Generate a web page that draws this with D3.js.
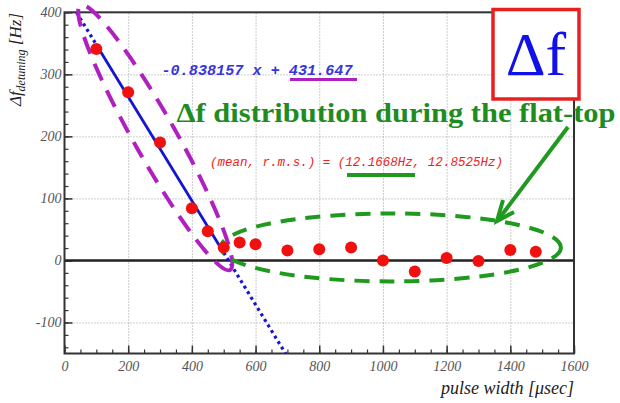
<!DOCTYPE html>
<html>
<head>
<meta charset="utf-8">
<script src="https://cdn.jsdelivr.net/npm/d3@7"></script>
<style>
  body { margin: 0; background: #fff; }
  svg { display: block; }
</style>
</head>
<body>
<div id="chart"></div>
<script>
// measured points (pulse width in usec, detuning in Hz)
const pulseWidth = [100, 200, 300, 400, 450, 500, 550, 600, 700, 800, 900, 1000, 1100, 1200, 1300, 1400, 1480];
const detuning = [341, 271, 190, 84, 47, 21, 29, 26, 16, 18, 21, 0, -18, 4, -1, 17, 14];

// linear fit on the rising part
const fitSlope = -0.838157;
const fitIntercept = 431.647;
const fitSolid = [100, 500];
const fitDotted = [[38, 100], [500, 694]];

const xTicks = [0, 200, 400, 600, 800, 1000, 1200, 1400, 1600];
const yTicks = [-100, 0, 100, 200, 300, 400];
const xMinor = d3.range(0, 1601, 50);
const yMinor = d3.range(-140, 401, 20);

const fitLabel = "-0.838157 x + 431.647";
const statLabel = "(mean, r.m.s.) = (12.1668Hz, 12.8525Hz)";
const flatTopLabel = "\u0394f distribution during the flat-top";

const W = 620, H = 403;
const pLeft = 64.5, pRight = 574, pTop = 12.3, pBottom = 353.5;

const svg = d3.select("#chart")
    .append("svg")
    .attr("width", W)
    .attr("height", H);

const x = d3.scaleLinear().domain([0, 1600]).range([pLeft, pRight]);
const y = d3.scaleLinear().domain([-150, 400]).range([pBottom, pTop]);
const plain = d => String(d);

// grid
svg.append("g")
    .attr("transform", "translate(0," + pBottom + ")")
    .call(d3.axisBottom(x).tickValues(xTicks.slice(1, -1)).tickSize(-(pBottom - pTop)).tickFormat(""))
    .call(g => g.select(".domain").remove())
    .call(g => g.selectAll("line").attr("stroke", "#999").attr("stroke-dasharray", "1,2"));
svg.append("g")
    .attr("transform", "translate(" + pLeft + ",0)")
    .call(d3.axisLeft(y).tickValues(yTicks).tickSize(-(pRight - pLeft)).tickFormat(""))
    .call(g => g.select(".domain").remove())
    .call(g => g.selectAll("line").attr("stroke", "#999").attr("stroke-dasharray", "1,2"));

// minor ticks
svg.append("g")
    .attr("transform", "translate(0," + pBottom + ")")
    .call(d3.axisBottom(x).tickValues(xMinor).tickSize(-4).tickFormat(""))
    .call(g => g.select(".domain").remove())
    .call(g => g.selectAll("line").attr("stroke", "#333").attr("stroke-width", 1.2));
svg.append("g")
    .attr("transform", "translate(" + pLeft + ",0)")
    .call(d3.axisLeft(y).tickValues(yMinor).tickSize(-4).tickFormat(""))
    .call(g => g.select(".domain").remove())
    .call(g => g.selectAll("line").attr("stroke", "#333").attr("stroke-width", 1.2));

// major ticks + labels
svg.append("g")
    .attr("transform", "translate(0," + pBottom + ")")
    .call(d3.axisBottom(x).tickValues(xTicks).tickSize(-8).tickPadding(8).tickFormat(plain))
    .call(g => g.select(".domain").remove())
    .call(g => g.selectAll("line").attr("stroke", "#333").attr("stroke-width", 1.5))
    .call(g => g.selectAll("text")
        .attr("font-family", "Liberation Serif, serif")
        .attr("font-style", "italic")
        .attr("font-size", 14)
        .attr("fill", "#555"));
svg.append("g")
    .attr("transform", "translate(" + pLeft + ",0)")
    .call(d3.axisLeft(y).tickValues(yTicks).tickSize(-8).tickPadding(3).tickFormat(plain))
    .call(g => g.select(".domain").remove())
    .call(g => g.selectAll("line").attr("stroke", "#333").attr("stroke-width", 1.5))
    .call(g => g.selectAll("text")
        .attr("font-family", "Liberation Serif, serif")
        .attr("font-style", "italic")
        .attr("font-size", 14)
        .attr("fill", "#555"));

// zero line
svg.append("line")
    .attr("x1", pLeft).attr("x2", pRight)
    .attr("y1", y(0)).attr("y2", y(0))
    .attr("stroke", "#222")
    .attr("stroke-width", 2.5);

// frame
svg.append("rect")
    .attr("x", pLeft).attr("y", pTop)
    .attr("width", pRight - pLeft).attr("height", pBottom - pTop)
    .attr("fill", "none")
    .attr("stroke", "#333")
    .attr("stroke-width", 2);

// fit line
const fitLine = d3.line()
    .x(d => x(d))
    .y(d => y(fitSlope * d + fitIntercept));

svg.append("path")
    .attr("d", fitLine(fitSolid))
    .attr("fill", "none")
    .attr("stroke", "#1515d0")
    .attr("stroke-width", 2.8);

fitDotted.forEach(seg => {
    svg.append("path")
        .attr("d", fitLine(seg))
        .attr("fill", "none")
        .attr("stroke", "#1515d0")
        .attr("stroke-width", 3.2)
        .attr("stroke-dasharray", "3,3.5");
});

// magenta ellipse round the slope
const slopeCenter = [285, 198];
svg.append("ellipse")
    .attr("cx", 0).attr("cy", 0)
    .attr("rx", 152).attr("ry", 21)
    .attr("transform", "translate(" + x(slopeCenter[0]) + "," + y(slopeCenter[1]) + ") rotate(60.5)")
    .attr("fill", "none")
    .attr("stroke", "#b020c0")
    .attr("stroke-width", 4)
    .attr("stroke-dasharray", "18,11");

// green ellipse round the flat-top
const flatCenter = [1025, 21];
svg.append("ellipse")
    .attr("cx", x(flatCenter[0])).attr("cy", y(flatCenter[1]))
    .attr("rx", 170).attr("ry", 34)
    .attr("fill", "none")
    .attr("stroke", "#1f9a1f")
    .attr("stroke-width", 4)
    .attr("stroke-dasharray", "15,10");

// points
svg.selectAll("circle.pt")
    .data(pulseWidth)
    .enter()
    .append("circle")
    .attr("class", "pt")
    .attr("cx", d => x(d))
    .attr("cy", (d, i) => y(detuning[i]))
    .attr("r", 6)
    .attr("fill", "#f01010");

// fit text
svg.append("text")
    .attr("x", 161.5).attr("y", 75)
    .attr("font-family", "Liberation Mono, monospace")
    .attr("font-style", "italic")
    .attr("font-weight", "bold")
    .attr("font-size", 14)
    .attr("textLength", 191)
    .attr("lengthAdjust", "spacingAndGlyphs")
    .attr("fill", "#3535e0")
    .text(fitLabel);
svg.append("line")
    .attr("x1", 290).attr("x2", 357).attr("y1", 79.5).attr("y2", 79.5)
    .attr("stroke", "#b020c0").attr("stroke-width", 3);

// flat-top title
svg.append("text")
    .attr("x", 176.5).attr("y", 121.5)
    .attr("font-family", "Liberation Serif, serif")
    .attr("font-weight", "bold")
    .attr("font-size", 28)
    .attr("textLength", 439)
    .attr("lengthAdjust", "spacingAndGlyphs")
    .attr("fill", "#1e8c1e")
    .text(flatTopLabel);

// mean / rms text
svg.append("text")
    .attr("x", 210).attr("y", 166)
    .attr("font-family", "Liberation Mono, monospace")
    .attr("font-style", "italic")
    .attr("font-size", 12)
    .attr("textLength", 293)
    .attr("lengthAdjust", "spacingAndGlyphs")
    .attr("fill", "#f02020")
    .text(statLabel);
svg.append("line")
    .attr("x1", 347).attr("x2", 415).attr("y1", 175).attr("y2", 175)
    .attr("stroke", "#1f9a1f").attr("stroke-width", 4);

// green arrow
svg.append("line")
    .attr("x1", 568).attr("y1", 127).attr("x2", 498).attr("y2", 220)
    .attr("stroke", "#1f9a1f").attr("stroke-width", 4);
svg.append("path")
    .attr("d", "M514,212 L497,221 L503,200")
    .attr("fill", "none")
    .attr("stroke", "#1f9a1f").attr("stroke-width", 4);

// delta f box
svg.append("rect")
    .attr("x", 493).attr("y", 9.5)
    .attr("width", 86).attr("height", 89.5)
    .attr("fill", "#fff")
    .attr("stroke", "#e82020")
    .attr("stroke-width", 3.5);
svg.append("text")
    .attr("x", 536).attr("y", 75)
    .attr("text-anchor", "middle")
    .attr("font-family", "Liberation Serif, serif")
    .attr("font-size", 62)
    .attr("fill", "#1010e8")
    .text("\u0394f");

// axis titles
const yTitle = svg.append("text")
    .attr("transform", "translate(21,13) rotate(-90)")
    .attr("text-anchor", "end")
    .attr("font-family", "Liberation Serif, serif")
    .attr("font-style", "italic")
    .attr("font-size", 17)
    .attr("fill", "#222");
yTitle.append("tspan").text("\u0394f");
yTitle.append("tspan").attr("font-size", 12).attr("dy", 4).text("detuning");
yTitle.append("tspan").attr("dy", -4).text(" [Hz]");

svg.append("text")
    .attr("x", 574).attr("y", 394)
    .attr("text-anchor", "end")
    .attr("font-family", "Liberation Serif, serif")
    .attr("font-style", "italic")
    .attr("font-size", 18)
    .attr("fill", "#222")
    .text("pulse width [\u03bcsec]");
</script>
</body>
</html>
